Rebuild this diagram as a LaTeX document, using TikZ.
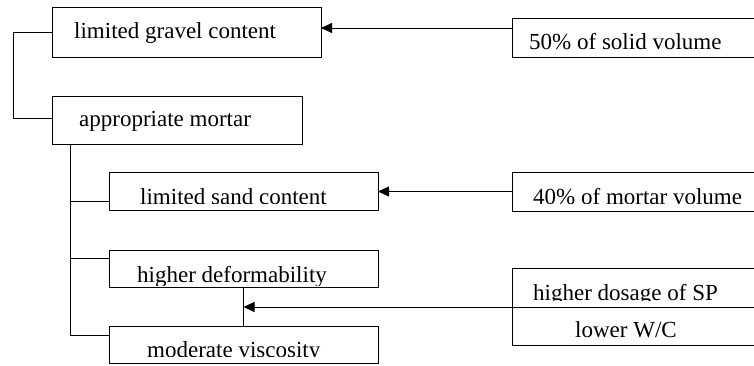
\documentclass[tikz,border=0pt]{standalone}
\usepackage{fontspec}
\setmainfont{Liberation Serif}
\usetikzlibrary{arrows.meta}
\begin{document}
\begin{tikzpicture}[x=1pt,y=-1pt,
  box/.style={draw,line width=1pt,rectangle,inner sep=0pt,outer sep=0pt},
  txt/.style={anchor=base west,inner sep=0pt,font=\fontsize{23}{27}\selectfont},
  link/.style={line width=1pt},
  arr/.style={line width=0.9pt,-{Triangle[length=11pt,width=10pt]}}]
\useasboundingbox (0,0) rectangle (754,365);
\clip (0,0) rectangle (754,365);
% boxes
\node[box,minimum width=269pt,minimum height=50pt] (gravel) at (186.5,32) {};
\node[box,minimum width=250pt,minimum height=48pt] (mortar) at (177,120) {};
\node[box,minimum width=269pt,minimum height=38pt] (sand) at (243.5,191) {};
\node[box,minimum width=269pt,minimum height=37.5pt] (deform) at (243.5,268.75) {};
\node[box,minimum width=269pt,minimum height=37pt] (visc) at (243.5,344.5) {};
\node[box,minimum width=288pt,minimum height=39pt] (solid) at (656,37.5) {};
\node[box,minimum width=288pt,minimum height=39pt] (mvol) at (656,191.5) {};
\node[box,minimum width=288pt,minimum height=39pt] (sp) at (656,287.5) {};
\node[box,minimum width=288pt,minimum height=38pt] (wc) at (656,326) {};
% texts
\node[txt] (tgravel) at (74,38) {limited gravel content};
\node[txt] (tmortar) at (79,126) {appropriate mortar};
\node[txt] (tsolid) at (529,49) {50\% of solid volume};
\begin{scope}
\clip (109,172) rectangle (378,203);
\node[txt] (tsand) at (140,204) {limited sand content};
\end{scope}
\begin{scope}
\clip (512,172) rectangle (754,203);
\node[txt] (tmvol) at (533,204) {40\% of mortar volume};
\end{scope}
\begin{scope}
\clip (109,250) rectangle (378,285);
\node[txt] (tdeform) at (137,282) {higher deformability};
\end{scope}
\begin{scope}
\clip (109,326) rectangle (378,356);
\node[txt] (tvisc) at (147,357) {moderate viscosity};
\end{scope}
\begin{scope}
\clip (512,268) rectangle (754,300);
\node[txt] (tsp) at (533,300.5) {higher dosage of SP};
\end{scope}
\node[txt] (twc) at (575,337.5) {lower W/C};
% connectors
\coordinate (left) at (13,32);
\draw[link] (gravel.west) -- (left) |- ([yshift=2pt]mortar.west);
\coordinate (trunk) at (70,144);
\draw[link] (trunk) |- ([yshift=9.5pt]visc.west);
\draw[link] ([yshift=-10pt]sand.west) -- ([yshift=-10pt]sand.west -| trunk);
\draw[link] ([yshift=10pt]deform.west) -- ([yshift=10pt]deform.west -| trunk);
\draw[link] (deform.south) -- (visc.north);
\draw[arr] ([yshift=9.5pt]solid.west) -- ([yshift=9.5pt]solid.west -| gravel.east);
\draw[arr] (mvol.west) -- (mvol.west -| sand.east);
\draw[arr] (sp.south west) -- (sp.south west -| deform.south);
\end{tikzpicture}
\end{document}
